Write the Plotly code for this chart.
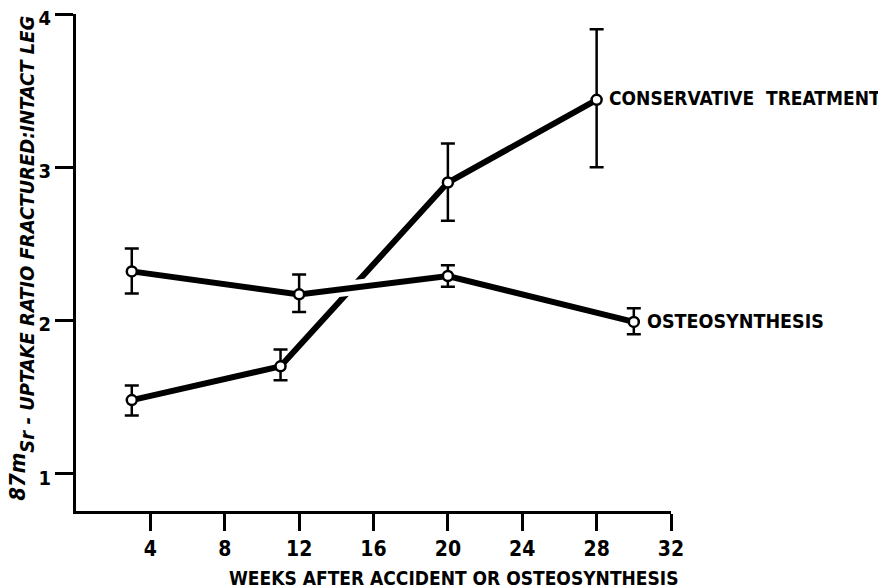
import plotly.graph_objects as go

# ---- data ----
cons_weeks = [3, 11, 20, 28]
cons_ratio = [1.48, 1.70, 2.90, 3.44]
cons_err_plus = [0.095, 0.11, 0.255, 0.46]
cons_err_minus = [0.10, 0.09, 0.25, 0.44]

osteo_weeks = [3, 12, 20, 30]
osteo_ratio = [2.32, 2.17, 2.29, 1.99]
osteo_err_plus = [0.15, 0.13, 0.07, 0.09]
osteo_err_minus = [0.145, 0.115, 0.07, 0.08]

x_ticks = [4, 8, 12, 16, 20, 24, 28, 32]
y_ticks = [1, 2, 3, 4]

cons_label = "CONSERVATIVE  TREATMENT"
osteo_label = "OSTEOSYNTHESIS"
x_title = "WEEKS AFTER ACCIDENT OR OSTEOSYNTHESIS"
y_title = ("<i><sup><span style='font-size:22px'>87m</span></sup>"
           "Sr - UPTAKE RATIO FRACTURED:INTACT LEG</i>")

FONT = "DejaVu Sans Condensed, Liberation Sans Narrow, sans-serif"
BLACK = "#000000"

fig = go.Figure()

# conservative line (drawn first so the osteosynthesis line cuts through it)
fig.add_trace(go.Scatter(x=cons_weeks, y=cons_ratio, mode="lines",
                         line=dict(color=BLACK, width=6), hoverinfo="skip",
                         showlegend=False))
# white halo that creates the break at the crossing
fig.add_trace(go.Scatter(x=osteo_weeks, y=osteo_ratio, mode="lines",
                         line=dict(color="white", width=15), hoverinfo="skip",
                         showlegend=False))
fig.add_trace(go.Scatter(x=osteo_weeks, y=osteo_ratio, mode="lines",
                         line=dict(color=BLACK, width=6), hoverinfo="skip",
                         showlegend=False))

marker = dict(symbol="circle", size=10, color="white",
              line=dict(color=BLACK, width=2.5))

fig.add_trace(go.Scatter(
    x=cons_weeks, y=cons_ratio, mode="markers", marker=marker,
    error_y=dict(type="data", symmetric=False, array=cons_err_plus,
                 arrayminus=cons_err_minus, color=BLACK, thickness=2.5, width=7),
    showlegend=False))
fig.add_trace(go.Scatter(
    x=osteo_weeks, y=osteo_ratio, mode="markers", marker=marker,
    error_y=dict(type="data", symmetric=False, array=osteo_err_plus,
                 arrayminus=osteo_err_minus, color=BLACK, thickness=2.5, width=7),
    showlegend=False))

# series labels
fig.add_annotation(x=cons_weeks[-1], y=cons_ratio[-1], xref="x", yref="y",
                   text=cons_label, showarrow=False, xanchor="left",
                   yanchor="middle", xshift=10, yshift=2,
                   font=dict(family=FONT, size=19, color=BLACK, weight="bold"))
fig.add_annotation(x=osteo_weeks[-1], y=osteo_ratio[-1], xref="x", yref="y",
                   text=osteo_label, showarrow=False, xanchor="left",
                   yanchor="middle", xshift=11,
                   font=dict(family=FONT, size=19.5, color=BLACK, weight="bold"))

# axis titles
fig.add_annotation(x=1.016, y=-0.1355, xref="paper", yref="paper",
                   text=x_title, showarrow=False, xanchor="right",
                   yanchor="middle",
                   font=dict(family=FONT, size=19, color=BLACK, weight="bold"))
fig.add_annotation(x=-0.0915, y=0.5085, xref="paper", yref="paper",
                   text=y_title, showarrow=False, textangle=-90,
                   xanchor="center", yanchor="middle",
                   font=dict(family=FONT, size=20, color=BLACK, weight="bold"))

# the page body adds an 8 px margin, so the figure is 8 px smaller and
# the left/top margins 8 px smaller to keep the plot where the reference has it
fig.update_layout(
    width=878, height=580,
    margin=dict(l=68, r=215, t=6, b=77, autoexpand=False),
    paper_bgcolor="white", plot_bgcolor="white",
    showlegend=False,
)
fig.update_xaxes(range=[0, 32], tickvals=x_ticks, ticks="outside", ticklen=17,
                 tickwidth=2.5, tickcolor=BLACK, showline=True, linewidth=2.7,
                 linecolor=BLACK, showgrid=False, zeroline=False,
                 automargin=False, ticklabeloverflow="allow",
                 tickfont=dict(family=FONT, size=21, color=BLACK, weight="bold"))
fig.update_yaxes(range=[0.756, 4], tickvals=y_ticks, ticks="outside", ticklen=18,
                 tickwidth=2.5, tickcolor=BLACK, showline=True, linewidth=2.7,
                 linecolor=BLACK, showgrid=False, zeroline=False,
                 automargin=False, ticklabeloverflow="allow", ticklabelshift=4,
                 tickfont=dict(family=FONT, size=20, color=BLACK, weight="bold"))

fig.write_html("out.html")
